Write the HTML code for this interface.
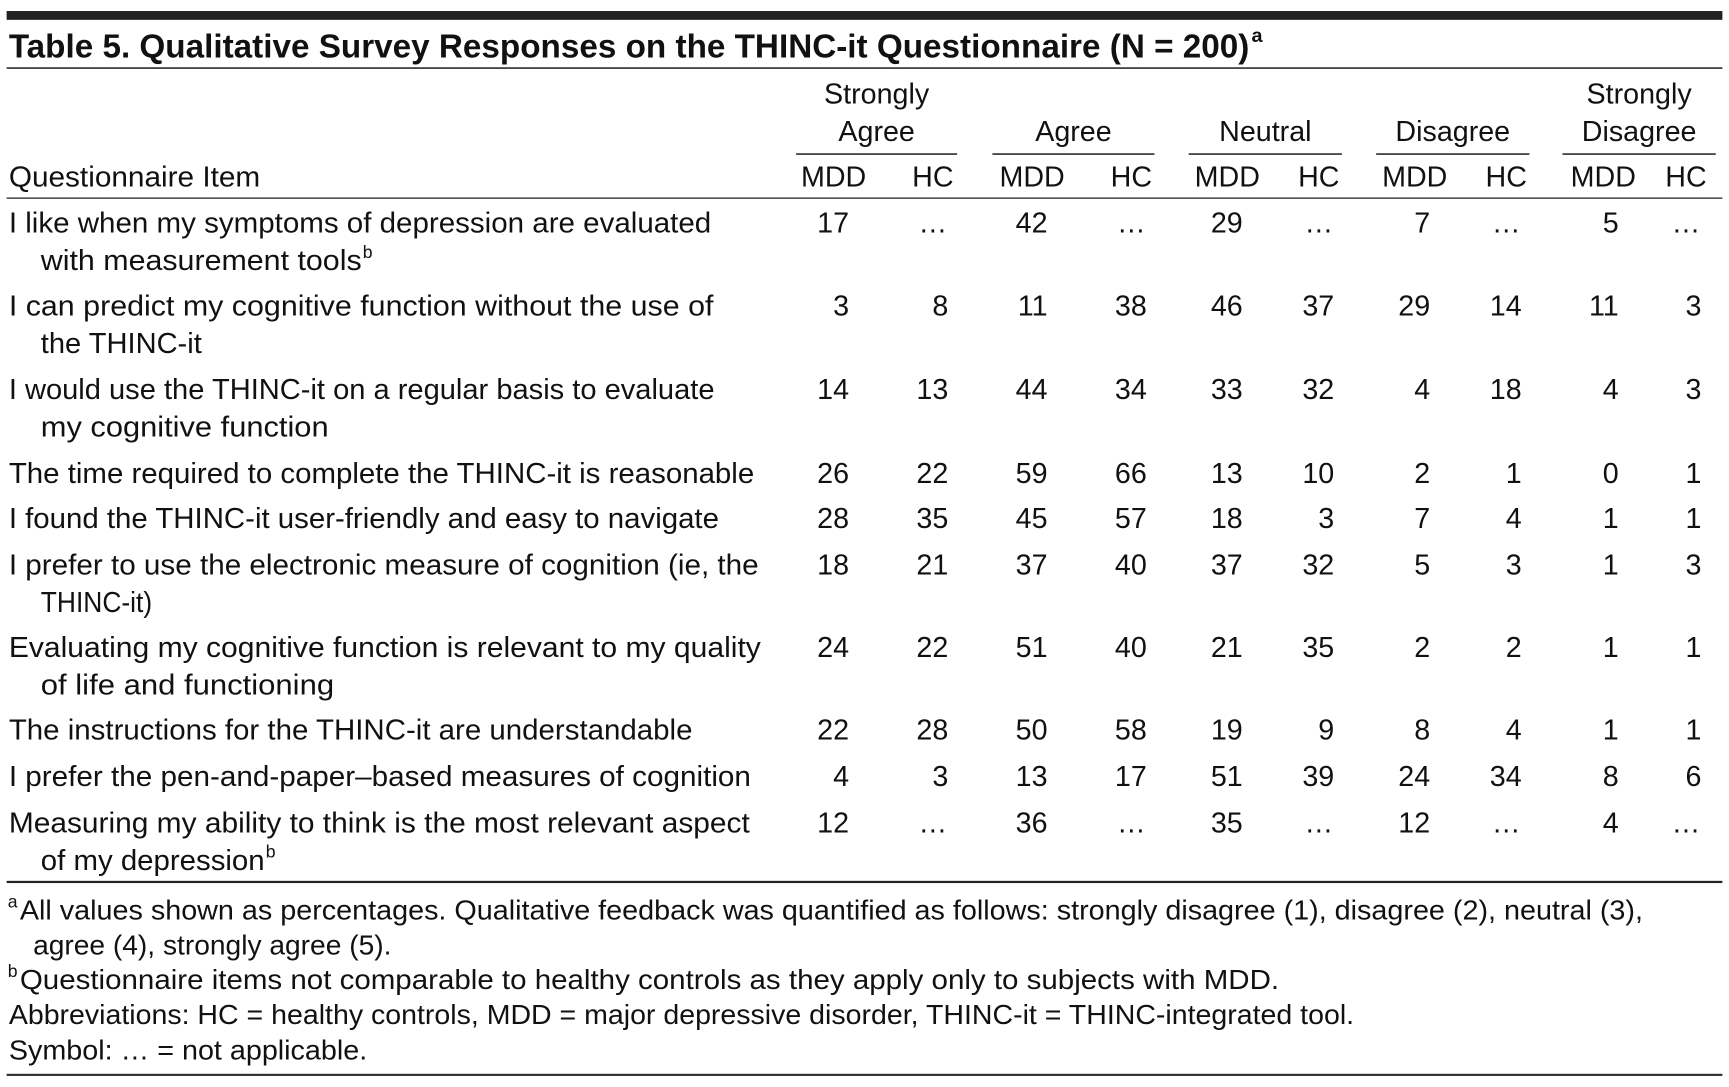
<!DOCTYPE html>
<html><head><meta charset="utf-8"><style>
html,body{margin:0;padding:0;background:#fff;}
svg{display:block;}
text{font-family:"Liberation Sans",sans-serif;fill:#111;}
</style></head><body>
<svg id="tbl" width="1729" height="1087" viewBox="0 0 1568 986" preserveAspectRatio="none" xmlns="http://www.w3.org/2000/svg">
<rect x="6" y="10" width="1556" height="8" fill="#222"/>
<text x="8" y="52" font-size="30" font-weight="bold" textLength="1125" lengthAdjust="spacingAndGlyphs">Table 5. Qualitative Survey Responses on the THINC-it Questionnaire (N = 200)</text>
<text x="1135" y="38" font-size="18" font-weight="bold">a</text>
<rect x="6" y="61" width="1556" height="1.5" fill="#333"/>
<rect x="6" y="179" width="1556" height="1.5" fill="#555"/>
<rect x="6" y="799" width="1556" height="2" fill="#222"/>
<rect x="6" y="974" width="1556" height="2" fill="#333"/>
<g id="hdr"></g>
<g id="body"></g>
<g id="foot"></g>
</svg>
<script>
const groups = [["Strongly","Agree"],["Agree"],["Neutral"],["Disagree"],["Strongly","Disagree"]];
const mdd = [17,3,14,26,28,18,24,22,4,12,
             42,11,44,59,45,37,51,50,13,36,
             29,46,33,13,18,37,21,19,51,35,
             7,29,4,2,7,5,2,8,24,12,
             5,11,4,0,1,1,1,1,8,4];
const hc = [null,8,13,22,35,21,22,28,3,null,
            null,38,34,66,57,40,40,58,17,null,
            null,37,32,10,3,32,35,9,39,null,
            null,14,18,1,4,3,2,4,34,null,
            null,3,3,1,1,3,1,1,6,null];
const items = [
 [["I like when my symptoms of depression are evaluated",637],["with measurement tools",291,"b"]],
 [["I can predict my cognitive function without the use of",639],["the THINC-it",146]],
 [["I would use the THINC-it on a regular basis to evaluate",640],["my cognitive function",261]],
 [["The time required to complete the THINC-it is reasonable",676]],
 [["I found the THINC-it user-friendly and easy to navigate",644]],
 [["I prefer to use the electronic measure of cognition (ie, the",680],["THINC-it)",101]],
 [["Evaluating my cognitive function is relevant to my quality",682],["of life and functioning",266]],
 [["The instructions for the THINC-it are understandable",620]],
 [["I prefer the pen-and-paper\u2013based measures of cognition",673]],
 [["Measuring my ability to think is the most relevant aspect",672],["of my depression",203,"b"]]
];
const rowY = [202,277,353,429,470,512,587,662,704,746];
const ns="http://www.w3.org/2000/svg";
const grpL=[722,900,1078,1248,1417], grpR=[868,1047,1217,1387,1556];
const mddR=[770,950,1127,1297,1468], hcR=[860,1040,1210,1380,1543];
function t(parent,x,y,s,size,anchor,len){
  const e=document.createElementNS(ns,'text');
  e.setAttribute('x',x);e.setAttribute('y',y);e.setAttribute('font-size',size);
  if(anchor)e.setAttribute('text-anchor',anchor);
  if(len){e.setAttribute('textLength',len);e.setAttribute('lengthAdjust','spacingAndGlyphs');}
  e.textContent=s;parent.appendChild(e);return e;
}
const hdr=document.getElementById('hdr');
let e=t(hdr,8,169,'Questionnaire Item',26,null,228);


groups.forEach((g,i)=>{
  const cx=(grpL[i]+grpR[i])/2;
  g.forEach((w,j)=>{
    const y = g.length===2 ? 94+j*34 : 128;
    const el=t(hdr,cx,y,w,26,'middle');
    
    
  });
  const r=document.createElementNS(ns,'rect');
  r.setAttribute('x',grpL[i]);r.setAttribute('y',139);r.setAttribute('width',grpR[i]-grpL[i]);r.setAttribute('height',1.5);r.setAttribute('fill','#333');
  
  
  hdr.appendChild(r);
  const m=t(hdr,mddR[i]-14,169,'MDD',26,'middle');
  
  
  const h=t(hdr,hcR[i]-14,169,'HC',26,'middle');
  
  
});
const body=document.getElementById('body');
items.forEach((lines,r)=>{
  lines.forEach((ln,j)=>{
    const x=j===0?8:37, y=rowY[r]+9+j*34;
    const el=t(body,x,y,ln[0],26,null,ln[1]);
    
    
    if(ln[2]){
      const s=t(body,x+ln[1]+1,y-11,ln[2],16);
      
      
    }
  });
  for(let g=0;g<5;g++){
    const y=rowY[r]+9;
    const mv=mdd[g*10+r];
    const a=t(body,mddR[g],y,String(mv),26,'end');
    
    
    const hv=hc[g*10+r];
    const b= hv===null ? t(body,hcR[g]-14,y,'\u2026',26,'middle') : t(body,hcR[g],y,String(hv),26,'end');
    
    
  }
});
const foot=document.getElementById('foot');
const notes=[
 [18,834,"All values shown as percentages. Qualitative feedback was quantified as follows: strongly disagree (1), disagree (2), neutral (3),",1472,"a"],
 [30,866,"agree (4), strongly agree (5).",325],
 [18,897,"Questionnaire items not comparable to healthy controls as they apply only to subjects with MDD.",1142,"b"],
 [8,929,"Abbreviations: HC = healthy controls, MDD = major depressive disorder, THINC-it = THINC-integrated tool.",1220],
 [8,961,"Symbol: \u2026 = not applicable.",325]
];
notes.forEach(n=>{
  const el=t(foot,n[0],n[1],n[2],25,null,n[3]);
  
  
  if(n[4]){
    const s=t(foot,7,n[1]-11,n[4],16);
    
    
  }
});
</script>
</body></html>
